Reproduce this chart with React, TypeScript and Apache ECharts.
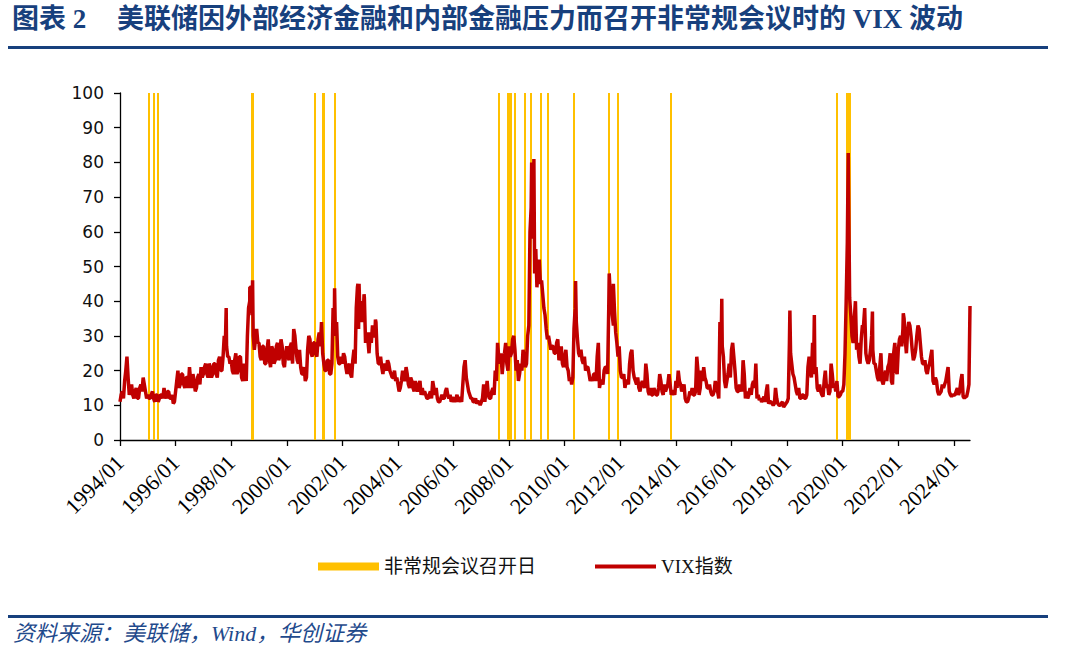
import React, { useEffect, useRef } from "react";
import * as echarts from "echarts";

// VIX readings at the start of each month, one row per year
const startYear = 1994;
const vixMonthStart: number[][] = [
  [11, 14, 17, 24, 13, 16, 12, 15, 12, 16, 18, 14], // 1994
  [13, 12, 14, 11, 13, 12, 13, 15, 12, 14, 12, 10.5], // 1995
  [14, 20, 16, 19, 15, 18, 21, 15, 17, 15, 19, 21], // 1996
  [19, 22, 18, 21, 19, 22, 18, 24, 20, 30, 27, 24], // 1997
  [23, 19, 25, 20, 24, 17, 19, 30, 40, 36, 26, 32], // 1998
  [28, 23, 27, 22, 29, 21, 26, 23, 28, 24, 27, 21], // 1999
  [27, 23, 28, 32, 26, 22, 21, 19, 17, 26, 29, 24], // 2000
  [28, 24, 31, 34, 22, 20, 23, 19, 38, 30, 24, 22], // 2001
  [22, 24, 19, 22, 18, 26, 38, 32, 40, 36, 28, 29], // 2002
  [31, 33, 30, 25, 22, 21, 22, 20, 22, 19, 18, 17], // 2003
  [16, 15, 20, 17, 19, 15, 17, 14, 15, 16, 13, 13], // 2004
  [13, 12, 14, 17, 13, 12, 11, 13, 12, 15, 12, 11], // 2005
  [12, 12, 11, 12, 16, 23, 16, 13, 12, 11, 10.5, 11], // 2006
  [11, 16, 14, 13, 12, 15, 20, 28, 22, 19, 25, 22], // 2007
  [27, 25, 30, 20, 17, 22, 26, 21, 30, 60, 58, 48], // 2008
  [44, 52, 46, 38, 32, 30, 26, 27, 25, 29, 24, 22], // 2009
  [24, 21, 17, 16, 32, 34, 25, 26, 22, 20, 21, 17], // 2010
  [17, 19, 24, 15, 17, 20, 21, 38, 42, 33, 31, 24], // 2011
  [20, 18, 15, 17, 22, 26, 18, 16, 15, 16, 16, 22], // 2012
  [14, 15, 13, 14, 13, 19, 14, 16, 15, 19, 13, 14], // 2013
  [17, 20, 16, 15, 12, 11, 14, 15, 13, 24, 13, 20], // 2014
  [21, 17, 15, 14, 13, 17, 14, 34, 27, 17, 17, 22], // 2015
  [26, 24, 15, 14, 15, 23, 12, 12, 15, 16, 15, 12], // 2016
  [11.5, 11, 12.5, 14, 10.5, 11, 10, 15, 10.5, 10, 11, 10], // 2017
  [11, 28, 22, 18, 14, 15, 12, 13, 12, 21, 20, 28], // 2018
  [19, 15, 16, 13, 17, 15, 13, 22, 15, 14, 12.5, 13], // 2019
  [14, 25, 57, 41, 30, 35, 26, 24, 29, 33, 25, 22], // 2020
  [26, 26, 22, 18, 21, 17, 18, 17, 22, 17, 25, 20], // 2021
  [26, 30, 32, 29, 31, 33, 26, 24, 30, 32, 24, 22], // 2022
  [20, 21, 24, 17, 18, 14, 13.5, 16, 16, 19, 14, 12.5], // 2023
  [13, 14, 13, 17, 12.5, 12.5, 14], // 2024
];

// VIX readings in the middle of each month, one row per year
const vixMidMonth: number[][] = [
  [13, 12, 20, 18, 15, 13, 14, 12, 15, 14, 16, 12], // 1994
  [12, 13, 12, 13, 11, 13, 12, 13, 14, 12, 13, 11], // 1995
  [17, 15, 19, 16, 18, 15, 17, 19, 14, 18, 16, 18], // 1996
  [21, 19, 22, 18, 22, 19, 23, 20, 24, 28, 24, 22], // 1997
  [20, 23, 19, 24, 18, 22, 17, 38, 44, 30, 29, 28], // 1998
  [24, 27, 22, 26, 23, 27, 22, 27, 23, 29, 22, 25], // 1999
  [24, 27, 22, 30, 23, 26, 19, 21, 18, 30, 25, 28], // 2000
  [25, 29, 27, 25, 20, 23, 19, 22, 31, 34, 22, 24], // 2001
  [25, 21, 21, 19, 23, 22, 44, 38, 34, 41, 31, 25], // 2002
  [28, 30, 34, 22, 24, 19, 21, 23, 20, 18, 20, 18], // 2003
  [14, 17, 18, 21, 16, 18, 15, 17, 14, 17, 15, 14], // 2004
  [12, 13, 12, 15, 15, 11, 12, 12, 14, 13, 13, 12], // 2005
  [11, 13, 12, 11, 21, 18, 14, 12, 11, 12, 11, 10], // 2006
  [12, 11, 17, 12, 14, 13, 17, 24, 25, 23, 28, 20], // 2007
  [24, 29, 26, 23, 19, 20, 24, 22, 33, 67, 70, 55], // 2008
  [50, 45, 42, 36, 29, 28, 27, 25, 28, 23, 27, 21], // 2009
  [26, 20, 18, 18, 38, 29, 24, 23, 24, 21, 19, 18], // 2010
  [19, 17, 28, 17, 16, 21, 19, 44, 36, 37, 28, 27], // 2011
  [18, 19, 17, 16, 25, 20, 17, 18, 14, 17, 15, 19], // 2012
  [13, 13, 15, 13, 15, 17, 13, 14, 16, 16, 14, 13], // 2013
  [15, 17, 14, 16, 11, 12, 13, 13, 14, 20, 15, 17], // 2014
  [18, 15, 16, 13, 14, 15, 12, 26, 24, 15, 19, 18], // 2015
  [28, 20, 14, 16, 14, 19, 14, 13, 13, 17, 22, 13], // 2016
  [12, 11.5, 11, 16, 11, 10.5, 10.5, 12, 10, 10.5, 9.5, 10.5], // 2017
  [12, 25, 19, 16, 13, 12, 13, 12, 13, 24, 18, 24], // 2018
  [21, 14, 14, 12.5, 20, 16, 14, 19, 16, 17, 12.5, 14], // 2019
  [16, 40, 75, 36, 28, 40, 28, 22, 33, 38, 23, 23], // 2020
  [30, 22, 20, 17, 25, 16, 20, 21, 25, 16, 28, 19], // 2021
  [29, 27, 35, 25, 34, 30, 23, 26, 33, 28, 22, 23], // 2022
  [19, 22, 26, 16, 17, 13, 14, 15, 17, 21, 13, 13], // 2023
  [13, 15, 14, 19, 12, 12.5, 16], // 2024
];

// Intra-month spikes: [decimal year, VIX]
const vixSpikes: [number, number][] = [
  [1997.82, 38], [1998.67, 44], [1998.77, 46], [2001.72, 43.7],
  [2002.56, 45], [2002.6, 45], [2002.78, 42], [2003.19, 34.7],
  [2008.81, 80], [2008.89, 81], [2010.39, 45.8], [2011.6, 48],
  [2011.75, 45], [2015.65, 40.7], [2018.1, 37.3], [2018.98, 36],
  [2020.2, 82.7], [2021.07, 37], [2022.18, 36.5], [2024.58, 38.6],
];

// Unscheduled FOMC meeting dates (decimal year)
const meetingDates: number[] = [
  1995.02, 1995.2, 1995.36, 1998.74, 1998.79, 2001.0, 2001.28, 2001.32,
  2001.71, 2007.61, 2007.95, 2008.0, 2008.05, 2008.21, 2008.55, 2008.76,
  2009.14, 2009.4, 2010.33, 2011.59, 2011.91, 2013.8, 2019.77, 2020.15,
  2020.19, 2020.23, 2020.27,
];

const xMin = 1994;
const xMax = 2024.58;
const xInterval = 2;
const yMin = 0;
const yMax = 100;
const yInterval = 10;

const titleLead = "图表 2";
const titleMain = "美联储因外部经济金融和内部金融压力而召开非常规会议时的 VIX 波动";
const sourceText = "资料来源：美联储，Wind，华创证券";
const meetingName = "非常规会议召开日";
const vixName = "VIX指数";

export default function App() {
  const ref = useRef<HTMLDivElement>(null);

  useEffect(() => {
    if (!ref.current) return;
    const chart = echarts.init(ref.current, undefined, { renderer: "svg" });

    const points: [number, number][] = [];
    vixMonthStart.forEach((row, yi) => {
      row.forEach((v, m) => points.push([startYear + yi + m / 12, v]));
    });
    vixMidMonth.forEach((row, yi) => {
      row.forEach((v, m) => points.push([startYear + yi + (m + 0.5) / 12, v]));
    });
    vixSpikes.forEach((p) => points.push([p[0], p[1]]));
    points.sort((a, b) => a[0] - b[0]);

    const blue = "#17407d";
    const serifCjk = "Liberation Serif, Noto Sans CJK SC, serif";

    chart.setOption({
      animation: false,
      backgroundColor: "#ffffff",
      textStyle: { fontFamily: serifCjk },
      grid: { left: 120, right: 110, top: 93, bottom: 223, containLabel: false },
      legend: {
        top: 557,
        left: 318,
        padding: 0,
        itemWidth: 61,
        itemHeight: 8,
        itemGap: 59,
        textStyle: { fontSize: 19, color: "#111", fontFamily: serifCjk },
        data: [
          { name: meetingName, icon: "rect" },
          { name: vixName, icon: "path://M0,0 L64,0 L64,4 L0,4 Z" },
        ],
      },
      xAxis: {
        type: "value",
        min: xMin,
        max: xMax,
        interval: xInterval,
        splitLine: { show: false },
        axisLine: { lineStyle: { color: "#000", width: 1.3 } },
        axisTick: { show: true, length: 6, lineStyle: { color: "#000", width: 1.3 } },
        axisLabel: {
          rotate: 45,
          margin: 19,
          fontSize: 22,
          color: "#000",
          fontFamily: "Liberation Serif, serif",
          showMaxLabel: false,
          formatter: (v: number) =>
            Math.abs(v - Math.round(v)) < 1e-6 && Math.round(v) % 2 === 0 ? `${Math.round(v)}/01` : "",
        },
      },
      yAxis: {
        type: "value",
        min: yMin,
        max: yMax,
        interval: yInterval,
        splitLine: { show: false },
        axisLine: { show: true, lineStyle: { color: "#000", width: 1.3 } },
        axisTick: { show: true, length: 6, lineStyle: { color: "#000", width: 1.3 } },
        axisLabel: {
          margin: 16,
          fontSize: 17,
          color: "#111",
          fontFamily: "DejaVu Sans, sans-serif",
        },
      },
      series: [
        {
          name: meetingName,
          type: "line",
          data: [],
          color: "#FFC000",
          symbol: "none",
          z: 1,
          markLine: {
            silent: true,
            z: 1,
            symbol: ["none", "none"],
            label: { show: false },
            lineStyle: { color: "#FFC000", width: 2, type: "solid" },
            emphasis: { disabled: true },
            data: meetingDates.map((d) => ({ xAxis: d })),
          },
        },
        {
          name: vixName,
          type: "line",
          data: points,
          color: "#C00000",
          symbol: "none",
          showSymbol: false,
          z: 10,
          lineStyle: { color: "#C00000", width: 3.5 },
        },
      ],
      graphic: [
        {
          type: "text",
          left: 12,
          top: 5,
          style: { text: titleLead, fontSize: 27, fontWeight: "bold", fill: blue, fontFamily: serifCjk },
        },
        {
          type: "text",
          left: 117,
          top: 5,
          style: { text: titleMain, fontSize: 27, fontWeight: "bold", fill: blue, fontFamily: serifCjk },
        },
        { type: "rect", shape: { x: 8, y: 46, width: 1040, height: 3 }, style: { fill: blue } },
        { type: "rect", shape: { x: 8, y: 615, width: 1040, height: 3 }, style: { fill: blue } },
        {
          type: "text",
          left: 13,
          top: 622,
          style: { text: sourceText, fontSize: 22, fontStyle: "italic", fill: "#1f4a8c", fontFamily: serifCjk },
        },
      ],
    });

    return () => chart.dispose();
  }, []);

  return (
    <div
      ref={ref}
      style={{ position: "absolute", left: 0, top: 0, width: 1080, height: 663 }}
    />
  );
}
